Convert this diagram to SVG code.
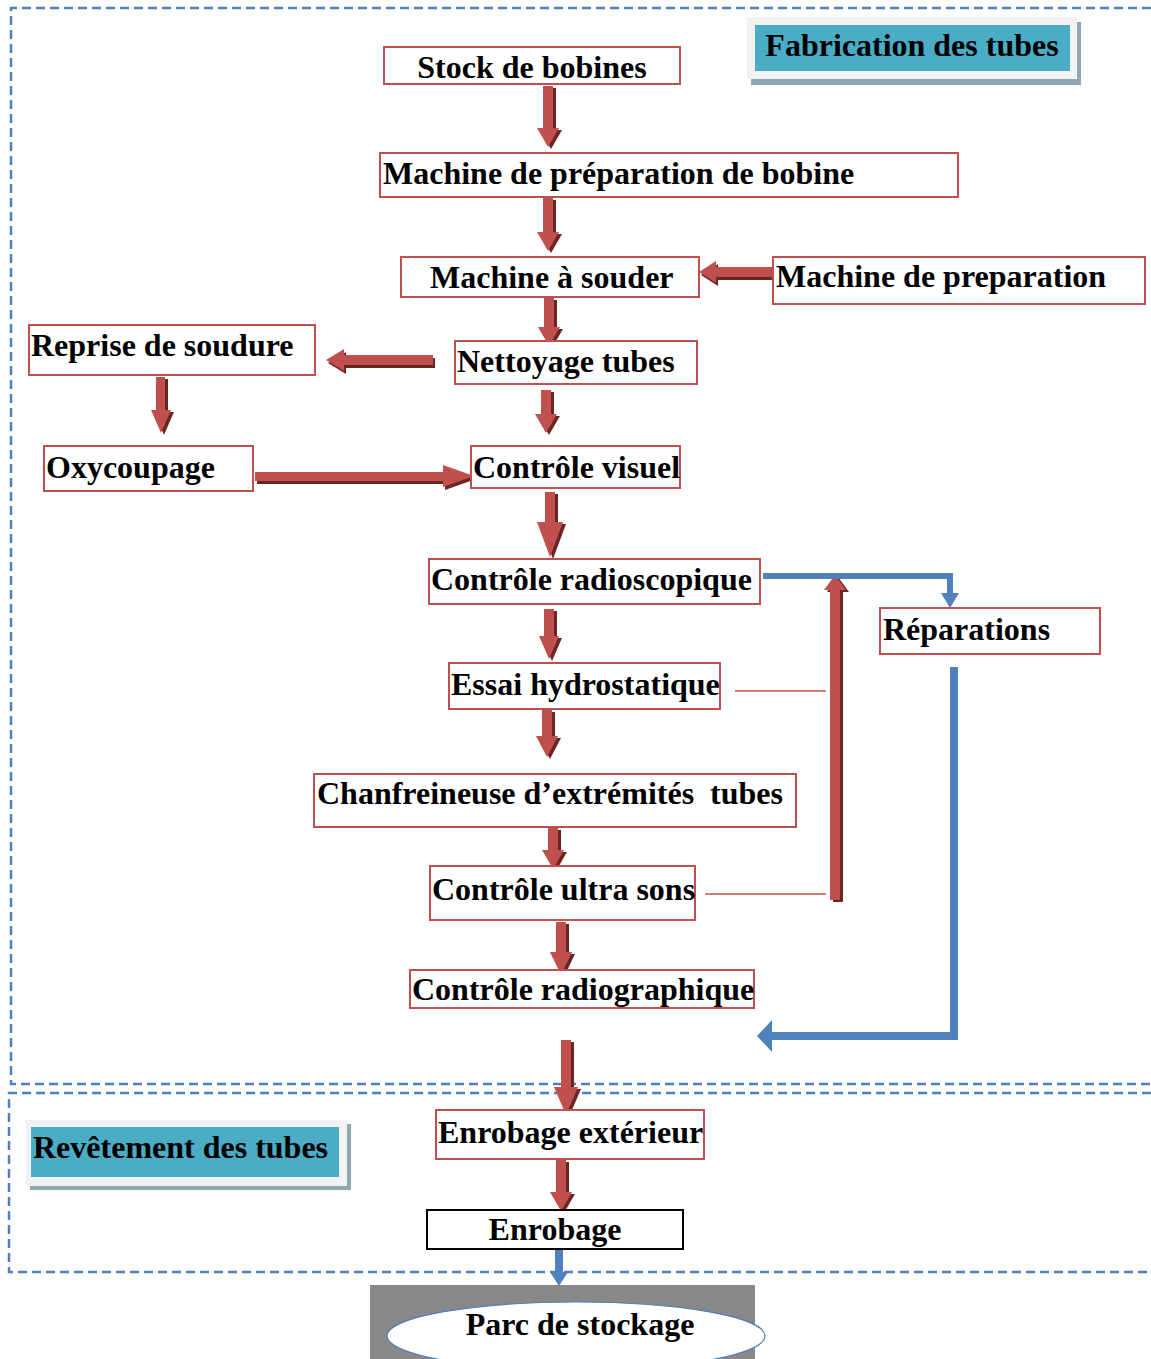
<svg xmlns="http://www.w3.org/2000/svg" xmlns:xlink="http://www.w3.org/1999/xlink" width="1151" height="1359" viewBox="0 0 1151 1359">
<style>
.bg{fill:#ffffff}
.zone{fill:none;stroke:#4F81BD;stroke-width:2.5;stroke-dasharray:9 5}
.box{fill:#ffffff;stroke:#C0504D;stroke-width:2}
.boxk{fill:#ffffff;stroke:#000000;stroke-width:2}
.t{font-family:"Liberation Serif","Times New Roman",serif;font-weight:bold;font-size:32px;fill:#000000}
.tl{font-family:"Liberation Serif","Times New Roman",serif;font-weight:bold;font-size:32px;fill:#000000}
.sh{fill:#6B2624}
.arr{fill:#C0504D}
.thin{fill:none;stroke:#C0504D;stroke-width:1.5}
.blue{fill:none;stroke:#4F81BD}
.bluef{fill:#4F81BD}
.lblout{fill:#F2F2F2}
.lblsh{fill:#8FA9B3}
.lblin{fill:#4BACC6}
</style>
<defs>
<path id="a1" d="M543,86 L553,86 L553,128 L559,128 L548,147 L537,128 L543,128 Z"/>
<path id="a2" d="M543,198 L553,198 L553,232 L559,232 L548,251 L537,232 L543,232 Z"/>
<path id="a3" d="M544,298 L554,298 L554,327 L560,327 L549,346 L538,327 L544,327 Z"/>
<path id="a4" d="M541,390 L551,390 L551,414 L557,414 L546,433 L535,414 L541,414 Z"/>
<path id="a5" d="M545,492 L555,492 L555,522 L563,522 L550,557 L537,522 L545,522 Z"/>
<path id="a6" d="M544,609 L554,609 L554,636 L559,636 L549,659 L539,636 L544,636 Z"/>
<path id="a7" d="M542,710 L552,710 L552,736 L558,736 L547,757 L536,736 L542,736 Z"/>
<path id="a8" d="M548,828 L558,828 L558,850 L564,850 L553,869 L542,850 L548,850 Z"/>
<path id="a9" d="M556,922 L566,922 L566,952 L572,952 L561,975 L550,952 L556,952 Z"/>
<path id="a10" d="M561,1040 L571,1040 L571,1087 L578,1087 L566,1115 L554,1087 L561,1087 Z"/>
<path id="a11" d="M556,1160 L566,1160 L566,1192 L572,1192 L561,1211 L550,1192 L556,1192 Z"/>
<path id="a12" d="M156,377 L165,377 L165,410 L171,410 L161,433 L151,410 L156,410 Z"/>
<path id="a13" d="M773,267 L773,277 L716,277 L716,283 L699,272 L716,261 L716,267 Z"/>
<path id="a14" d="M433,355 L433,365 L344,365 L344,371 L326,360 L344,349 L344,355 Z"/>
<path id="a15" d="M255,472 L255,481 L443,481 L443,487 L474,476 L443,465 L443,472 Z"/>
<path id="a16" d="M830,900 L840,900 L840,590 L846,590 L835,575 L824,590 L830,590 Z"/>
</defs>
<rect class="bg" x="0" y="0" width="1151" height="1359"/>

<g id="zones">
<path class="zone" d="M1151,8 L11,8 L11,1084 L1151,1084"/>
<path class="zone" d="M1151,1093 L9,1093 L9,1272 L1151,1272"/>
</g>

<g id="label-fabrication">
<rect class="lblsh" x="751" y="22" width="330" height="63"/>
<rect class="lblout" x="747" y="17" width="330" height="62"/>
<rect class="lblin" x="755" y="25" width="315" height="46"/>
<text class="tl" x="912" y="56" text-anchor="middle">Fabrication des tubes</text>
</g>

<g id="label-revetement">
<rect class="lblsh" x="30" y="1124" width="321" height="66"/>
<rect class="lblout" x="26" y="1120" width="321" height="66"/>
<rect class="lblin" x="31" y="1127" width="308" height="50"/>
<text class="tl" x="33" y="1158">Revêtement des tubes</text>
</g>

<g id="connectors">
<use xlink:href="#a1" class="sh" transform="translate(3,2)"/><use xlink:href="#a1" class="arr"/>
<use xlink:href="#a2" class="sh" transform="translate(3,2)"/><use xlink:href="#a2" class="arr"/>
<use xlink:href="#a3" class="sh" transform="translate(3,2)"/><use xlink:href="#a3" class="arr"/>
<use xlink:href="#a4" class="sh" transform="translate(3,2)"/><use xlink:href="#a4" class="arr"/>
<use xlink:href="#a5" class="sh" transform="translate(3,2)"/><use xlink:href="#a5" class="arr"/>
<use xlink:href="#a6" class="sh" transform="translate(3,2)"/><use xlink:href="#a6" class="arr"/>
<use xlink:href="#a7" class="sh" transform="translate(3,2)"/><use xlink:href="#a7" class="arr"/>
<use xlink:href="#a8" class="sh" transform="translate(3,2)"/><use xlink:href="#a8" class="arr"/>
<use xlink:href="#a9" class="sh" transform="translate(3,2)"/><use xlink:href="#a9" class="arr"/>
<use xlink:href="#a10" class="sh" transform="translate(3,2)"/><use xlink:href="#a10" class="arr"/>
<use xlink:href="#a11" class="sh" transform="translate(3,2)"/><use xlink:href="#a11" class="arr"/>
<use xlink:href="#a12" class="sh" transform="translate(3,2)"/><use xlink:href="#a12" class="arr"/>
<use xlink:href="#a13" class="sh" transform="translate(2,3)"/><use xlink:href="#a13" class="arr"/>
<use xlink:href="#a14" class="sh" transform="translate(2,3)"/><use xlink:href="#a14" class="arr"/>
<use xlink:href="#a15" class="sh" transform="translate(2,3)"/><use xlink:href="#a15" class="arr"/>
<use xlink:href="#a16" class="sh" transform="translate(3,2)"/><use xlink:href="#a16" class="arr"/>
<line class="thin" x1="735" y1="691" x2="826" y2="691"/>
<line class="thin" x1="705" y1="894" x2="826" y2="894"/>
<polyline class="blue" stroke-width="6" points="763,576 950,576 950,594"/>
<polygon class="bluef" points="941,593 959,593 950,608"/>
<polyline class="blue" stroke-width="8" points="954,667 954,1036 770,1036"/>
<polygon class="bluef" points="772,1020 772,1052 757,1036"/>
<line class="blue" stroke-width="8" x1="559" y1="1250" x2="559" y2="1273"/>
<polygon class="bluef" points="550,1272 568,1272 559,1286"/>
</g>

<g id="n-stock"><rect class="box" x="384" y="47" width="296" height="37"/><text class="t" x="532" y="78" text-anchor="middle">Stock de bobines</text></g>
<g id="n-prep-bobine"><rect class="box" x="380" y="153" width="578" height="44"/><text class="t" x="383" y="184">Machine de préparation de bobine</text></g>
<g id="n-souder"><rect class="box" x="401" y="257" width="298" height="40"/><text class="t" x="430" y="288">Machine à souder</text></g>
<g id="n-prep"><rect class="box" x="773" y="257" width="372" height="47"/><text class="t" x="776" y="287">Machine de preparation</text></g>
<g id="n-reprise"><rect class="box" x="29" y="325" width="286" height="50"/><text class="t" x="31" y="356">Reprise de soudure</text></g>
<g id="n-nettoyage"><rect class="box" x="455" y="341" width="242" height="43"/><text class="t" x="457" y="372">Nettoyage tubes</text></g>
<g id="n-oxy"><rect class="box" x="44" y="446" width="209" height="45"/><text class="t" x="46" y="478">Oxycoupage</text></g>
<g id="n-visuel"><rect class="box" x="471" y="446" width="209" height="42"/><text class="t" x="473" y="478">Contrôle visuel</text></g>
<g id="n-radioscopique"><rect class="box" x="429" y="559" width="331" height="45"/><text class="t" x="431" y="590">Contrôle radioscopique</text></g>
<g id="n-reparations"><rect class="box" x="880" y="608" width="220" height="46"/><text class="t" x="883" y="640">Réparations</text></g>
<g id="n-hydro"><rect class="box" x="449" y="663" width="271" height="46"/><text class="t" x="451" y="695">Essai hydrostatique</text></g>
<g id="n-chanfrein"><rect class="box" x="314" y="774" width="482" height="53"/><text class="t" x="317" y="804" xml:space="preserve">Chanfreineuse d’extrémités  tubes</text></g>
<g id="n-ultrasons"><rect class="box" x="430" y="866" width="265" height="54"/><text class="t" x="432" y="900">Contrôle ultra sons</text></g>
<g id="n-radiographique"><rect class="box" x="410" y="970" width="344" height="38"/><text class="t" x="412" y="1000">Contrôle radiographique</text></g>
<g id="n-enrobage-ext"><rect class="box" x="436" y="1110" width="268" height="49"/><text class="t" x="438" y="1143">Enrobage extérieur</text></g>
<g id="n-enrobage"><rect class="boxk" x="427" y="1210" width="256" height="39"/><text class="t" x="555" y="1240" text-anchor="middle">Enrobage</text></g>
<g id="n-parc">
<rect x="370" y="1285" width="385" height="74" fill="#888888"/>
<ellipse cx="576" cy="1336" rx="189" ry="34" fill="#ffffff" stroke="#4F81BD" stroke-width="1.2"/>
<text class="t" x="580" y="1335" text-anchor="middle">Parc de stockage</text>
</g>
</svg>
